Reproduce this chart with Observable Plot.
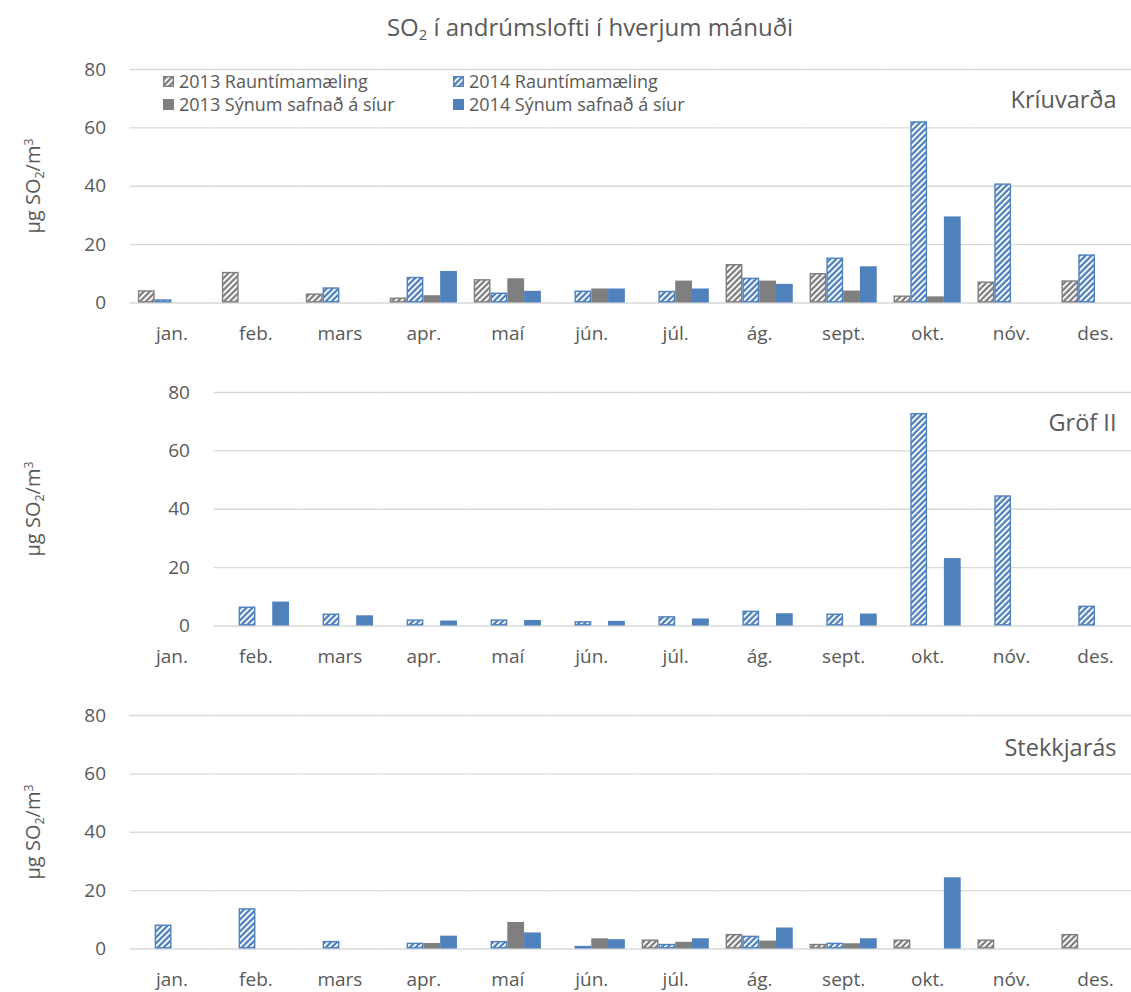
<!DOCTYPE html>
<html>
<head>
<meta charset="utf-8">
<script src="https://cdn.jsdelivr.net/npm/d3@7"></script>
<script src="https://cdn.jsdelivr.net/npm/@observablehq/plot@0.6"></script>
<style>
html, body { margin: 0; padding: 0; overflow: hidden; background: #fff; }
body { width: 1131px; height: 992px; position: relative; font-family: "Open Sans", sans-serif; color: #595959; }
#title { position: absolute; top: 11px; left: 0; width: 1180px; text-align: center; font-size: 24px; line-height: 32px; }
sub { font-size: 0.62em; vertical-align: -0.3em; line-height: 0; }
sup { font-size: 0.62em; vertical-align: 0.55em; line-height: 0; }
.panel { position: absolute; left: 0; max-width: none !important; }
.ylab { position: absolute; left: 33px; font-size: 20px; white-space: nowrap; transform: translate(-50%, -50%) rotate(-90deg); line-height: 24px; }
#legend { position: absolute; left: 163px; top: 70px; font-size: 18px; line-height: 23px; }
.li { position: absolute; white-space: nowrap; display: flex; align-items: center; }
.li svg { margin-right: 5px; }
</style>
</head>
<body>
<svg width="0" height="0" style="position:absolute">
  <defs>
    <pattern id="hatchBlue" patternUnits="userSpaceOnUse" width="4.2" height="4.2" patternTransform="rotate(45)">
      <rect width="4.2" height="4.2" fill="#4f81bd"></rect>
      <rect width="1.9" height="4.2" fill="#ffffff"></rect>
    </pattern>
    <pattern id="hatchGray" patternUnits="userSpaceOnUse" width="4.2" height="4.2" patternTransform="rotate(45)">
      <rect width="4.2" height="4.2" fill="#7f7f7f"></rect>
      <rect width="1.9" height="4.2" fill="#ffffff"></rect>
    </pattern>
  </defs>
</svg>
<div id="title">SO<sub>2</sub> í andrúmslofti í hverjum mánuði</div>
<div id="root"></div>
<script>
// ---- data ----
const months = ["jan.", "feb.", "mars", "apr.", "maí", "jún.", "júl.", "ág.", "sept.", "okt.", "nóv.", "des."];
const seriesNames = ["2013 Rauntímamæling", "2014 Rauntímamæling", "2013 Sýnum safnað á síur", "2014 Sýnum safnað á síur"];
const stations = ["Kríuvarða", "Gröf II", "Stekkjarás"];
const yTicks = [0, 20, 40, 60, 80];

const kriuvardaR2013 = [4.2, 10.5, 3.1, 1.7, 8.0, null, null, 13.2, 10.1, 2.4, 7.2, 7.6];
const kriuvardaR2014 = [1.1, -0.3, 5.2, 8.8, 3.4, 4.1, 4.0, 8.5, 15.4, 62.1, 40.8, 16.5];
const kriuvardaS2013 = [null, null, null, 2.5, 8.3, 4.8, 7.5, 7.5, 4.1, 2.1, null, null];
const kriuvardaS2014 = [null, null, null, 10.8, 4.0, 4.8, 4.8, 6.4, 12.4, 29.5, null, null];

const grofR2013 = [null, null, null, null, null, null, null, null, null, null, null, null];
const grofR2014 = [null, 6.5, 4.1, 2.1, 2.1, 1.5, 3.2, 5.1, 4.1, 72.8, 44.6, 6.8];
const grofS2013 = [null, null, null, null, null, null, null, null, null, null, null, null];
const grofS2014 = [null, 8.2, 3.5, 1.7, 1.9, 1.6, 2.4, 4.2, 4.1, 23.1, null, null];

const stekkR2013 = [null, null, null, null, null, null, 3.1, 5.0, 1.6, 3.1, 3.1, 5.0];
const stekkR2014 = [8.2, 13.8, 2.6, 2.0, 2.6, 0.9, 1.6, 4.4, 2.0, null, null, null];
const stekkS2013 = [null, null, null, 1.9, 9.1, 3.5, 2.3, 2.7, 1.8, null, null, null];
const stekkS2014 = [null, null, null, 4.4, 5.5, 3.2, 3.5, 7.2, 3.5, 24.4, null, null];

// ---- styles ----
const seriesFill = ["url(#hatchGray)", "url(#hatchBlue)", "#7f7f7f", "#4f81bd"];
const seriesStroke = ["#7f7f7f", "#4f81bd", "none", "none"];
const fontFamily = '"Open Sans", sans-serif';

function makePanel(station, arrays, labelDy, top, height, marginBottom) {
  const marks = [
    Plot.gridY(yTicks, {stroke: "#d9d9d9", strokeOpacity: 1, strokeWidth: 1.3})
  ];
  arrays.forEach((arr, si) => {
    const data = [];
    arr.forEach((v, mi) => { if (v != null) data.push({month: months[mi], series: seriesNames[si], value: v}); });
    const hatched = seriesStroke[si] !== "none";
    marks.push(Plot.barY(data, {
      fx: "month", x: "series", y: "value",
      fill: seriesFill[si],
      stroke: hatched ? seriesStroke[si] : undefined,
      strokeWidth: hatched ? 1.4 : undefined,
      inset: hatched ? 0.7 : 0
    }));
  });
  marks.push(Plot.text([{fx: "des.", label: station}], {
    fx: "fx", text: "label", frameAnchor: "top-right",
    dx: -21, dy: labelDy, textAnchor: "end", lineAnchor: "middle",
    fontSize: 23.5, fill: "#595959"
  }));
  const chart = Plot.plot({
    width: 1137, height,
    marginLeft: 129.5, marginRight: 0, marginTop: 18, marginBottom,
    style: {fontFamily, fontSize: "19px", color: "#595959", background: "transparent", overflow: "visible", maxWidth: "none"},
    fx: {domain: months, padding: 0, round: false, axis: "bottom", label: null, tickSize: 0, tickPadding: 23},
    x: {domain: seriesNames, paddingInner: 0, paddingOuter: 0.5, round: false, axis: null},
    y: {domain: [0, 80], ticks: yTicks, label: null, tickSize: 0, tickPadding: 24},
    marks
  });
  chart.classList.add("panel");
  chart.style.top = top + "px";
  chart.style.maxWidth = "none";
  document.getElementById("root").appendChild(chart);

  const yl = document.createElement("div");
  yl.className = "ylab";
  yl.style.top = (top + 18 + 233.5 / 2) + "px";
  yl.innerHTML = "µg SO<sub>2</sub>/m<sup>3</sup>";
  document.body.appendChild(yl);
}

makePanel(stations[0], [kriuvardaR2013, kriuvardaR2014, kriuvardaS2013, kriuvardaS2014], 31, 51, 302, 50.5);
makePanel(stations[1], [grofR2013, grofR2014, grofS2013, grofS2014], 31, 374, 302, 50.5);
makePanel(stations[2], [stekkR2013, stekkR2014, stekkS2013, stekkS2014], 33, 697, 300, 48.5);

// ---- legend ----
const legend = document.createElement("div");
legend.id = "legend";
const legendPos = [[0, 0], [290, 0], [0, 23], [290, 23]];
seriesNames.forEach((name, i) => {
  const item = document.createElement("div");
  item.className = "li";
  item.style.left = legendPos[i][0] + "px";
  item.style.top = legendPos[i][1] + "px";
  const sw = seriesStroke[i] !== "none"
    ? `<rect x="0.7" y="0.7" width="9.6" height="9.6" fill="${seriesFill[i]}" stroke="${seriesStroke[i]}" stroke-width="1.4"></rect>`
    : `<rect width="11" height="11" fill="${seriesFill[i]}"></rect>`;
  item.innerHTML = `<svg width="11" height="11">${sw}</svg><span>${name}</span>`;
  legend.appendChild(item);
});
document.body.appendChild(legend);
</script>
</body>
</html>
